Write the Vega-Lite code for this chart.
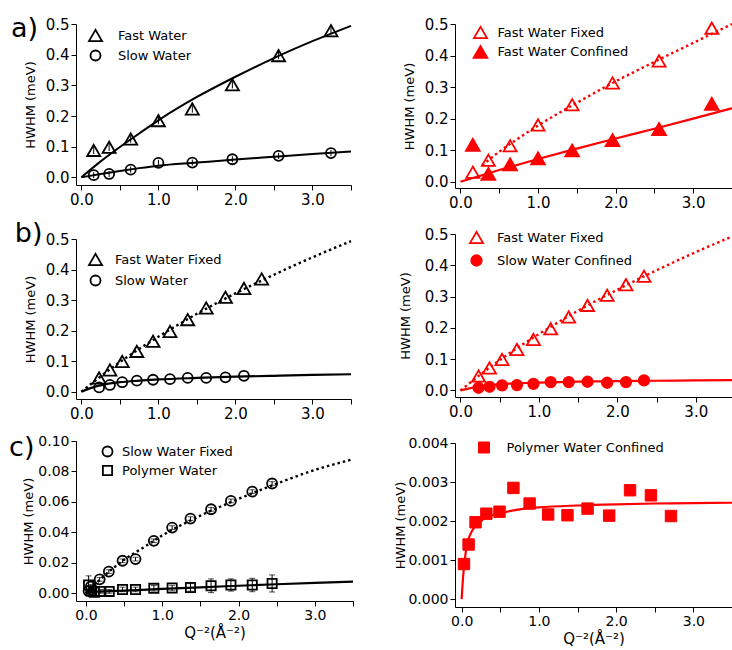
{
  "$schema": "https://vega.github.io/schema/vega-lite/v6.json",
  "padding": {"left": 9, "top": 15, "right": 0, "bottom": 0},
  "background": "white",
  "datasets": {
    "aL_pts": [
      {"series": "Fast Water", "q2": 0.16, "hwhm": 0.088, "err": 0.012},
      {"series": "Fast Water", "q2": 0.36, "hwhm": 0.098, "err": 0.012},
      {"series": "Fast Water", "q2": 0.64, "hwhm": 0.125, "err": 0.012},
      {"series": "Fast Water", "q2": 1.0, "hwhm": 0.185, "err": 0.012},
      {"series": "Fast Water", "q2": 1.44, "hwhm": 0.223, "err": 0.012},
      {"series": "Fast Water", "q2": 1.96, "hwhm": 0.302, "err": 0.012},
      {"series": "Fast Water", "q2": 2.56, "hwhm": 0.397, "err": 0.012},
      {"series": "Fast Water", "q2": 3.24, "hwhm": 0.478, "err": 0.012},
      {"series": "Slow Water", "q2": 0.16, "hwhm": 0.007, "err": 0.01},
      {"series": "Slow Water", "q2": 0.36, "hwhm": 0.011, "err": 0.01},
      {"series": "Slow Water", "q2": 0.64, "hwhm": 0.025, "err": 0.01},
      {"series": "Slow Water", "q2": 1.0, "hwhm": 0.047, "err": 0.01},
      {"series": "Slow Water", "q2": 1.44, "hwhm": 0.048, "err": 0.01},
      {"series": "Slow Water", "q2": 1.96, "hwhm": 0.059, "err": 0.01},
      {"series": "Slow Water", "q2": 2.56, "hwhm": 0.07, "err": 0.01},
      {"series": "Slow Water", "q2": 3.24, "hwhm": 0.079, "err": 0.01}
    ],
    "aL_fit": [
      {"series": "Fast Water", "q2": 0, "hwhm": 0},
      {"series": "Fast Water", "q2": 0.25, "hwhm": 0.052},
      {"series": "Fast Water", "q2": 0.5, "hwhm": 0.099},
      {"series": "Fast Water", "q2": 0.75, "hwhm": 0.143},
      {"series": "Fast Water", "q2": 1.0, "hwhm": 0.186},
      {"series": "Fast Water", "q2": 1.5, "hwhm": 0.262},
      {"series": "Fast Water", "q2": 2.0, "hwhm": 0.328},
      {"series": "Fast Water", "q2": 2.5, "hwhm": 0.389},
      {"series": "Fast Water", "q2": 3.0, "hwhm": 0.444},
      {"series": "Fast Water", "q2": 3.5, "hwhm": 0.494},
      {"series": "Slow Water", "q2": 0, "hwhm": 0},
      {"series": "Slow Water", "q2": 0.25, "hwhm": 0.011},
      {"series": "Slow Water", "q2": 0.5, "hwhm": 0.021},
      {"series": "Slow Water", "q2": 0.75, "hwhm": 0.03},
      {"series": "Slow Water", "q2": 1.0, "hwhm": 0.038},
      {"series": "Slow Water", "q2": 1.5, "hwhm": 0.048},
      {"series": "Slow Water", "q2": 2.0, "hwhm": 0.058},
      {"series": "Slow Water", "q2": 2.5, "hwhm": 0.067},
      {"series": "Slow Water", "q2": 3.0, "hwhm": 0.076},
      {"series": "Slow Water", "q2": 3.5, "hwhm": 0.084}
    ],
    "aR_pts": [
      {"series": "Fast Water Fixed", "q2": 0.16, "hwhm": 0.03},
      {"series": "Fast Water Fixed", "q2": 0.36, "hwhm": 0.068},
      {"series": "Fast Water Fixed", "q2": 0.64, "hwhm": 0.114},
      {"series": "Fast Water Fixed", "q2": 1.0, "hwhm": 0.18},
      {"series": "Fast Water Fixed", "q2": 1.44, "hwhm": 0.244},
      {"series": "Fast Water Fixed", "q2": 1.96, "hwhm": 0.313},
      {"series": "Fast Water Fixed", "q2": 2.56, "hwhm": 0.383},
      {"series": "Fast Water Fixed", "q2": 3.24, "hwhm": 0.487},
      {"series": "Fast Water Confined", "q2": 0.16, "hwhm": 0.117},
      {"series": "Fast Water Confined", "q2": 0.36, "hwhm": 0.025},
      {"series": "Fast Water Confined", "q2": 0.64, "hwhm": 0.055},
      {"series": "Fast Water Confined", "q2": 1.0, "hwhm": 0.074},
      {"series": "Fast Water Confined", "q2": 1.44, "hwhm": 0.099},
      {"series": "Fast Water Confined", "q2": 1.96, "hwhm": 0.132},
      {"series": "Fast Water Confined", "q2": 2.56, "hwhm": 0.167},
      {"series": "Fast Water Confined", "q2": 3.24, "hwhm": 0.247}
    ],
    "aR_fit": [
      {"series": "Fast Water Fixed", "q2": 0.28, "hwhm": 0.052},
      {"series": "Fast Water Fixed", "q2": 0.5, "hwhm": 0.095},
      {"series": "Fast Water Fixed", "q2": 0.75, "hwhm": 0.138},
      {"series": "Fast Water Fixed", "q2": 1.0, "hwhm": 0.178},
      {"series": "Fast Water Fixed", "q2": 1.5, "hwhm": 0.25},
      {"series": "Fast Water Fixed", "q2": 2.0, "hwhm": 0.318},
      {"series": "Fast Water Fixed", "q2": 2.5, "hwhm": 0.38},
      {"series": "Fast Water Fixed", "q2": 3.0, "hwhm": 0.44},
      {"series": "Fast Water Fixed", "q2": 3.5, "hwhm": 0.5},
      {"series": "Fast Water Confined", "q2": 0, "hwhm": 0},
      {"series": "Fast Water Confined", "q2": 0.5, "hwhm": 0.037},
      {"series": "Fast Water Confined", "q2": 1.0, "hwhm": 0.072},
      {"series": "Fast Water Confined", "q2": 1.5, "hwhm": 0.105},
      {"series": "Fast Water Confined", "q2": 2.0, "hwhm": 0.137},
      {"series": "Fast Water Confined", "q2": 2.5, "hwhm": 0.168},
      {"series": "Fast Water Confined", "q2": 3.0, "hwhm": 0.2},
      {"series": "Fast Water Confined", "q2": 3.5, "hwhm": 0.233}
    ],
    "bL_pts": [
      {"series": "Fast Water Fixed", "q2": 0.23, "hwhm": 0.045},
      {"series": "Fast Water Fixed", "q2": 0.37, "hwhm": 0.071},
      {"series": "Fast Water Fixed", "q2": 0.53, "hwhm": 0.099},
      {"series": "Fast Water Fixed", "q2": 0.72, "hwhm": 0.132},
      {"series": "Fast Water Fixed", "q2": 0.93, "hwhm": 0.165},
      {"series": "Fast Water Fixed", "q2": 1.15, "hwhm": 0.197},
      {"series": "Fast Water Fixed", "q2": 1.38, "hwhm": 0.236},
      {"series": "Fast Water Fixed", "q2": 1.62, "hwhm": 0.274},
      {"series": "Fast Water Fixed", "q2": 1.87, "hwhm": 0.309},
      {"series": "Fast Water Fixed", "q2": 2.11, "hwhm": 0.338},
      {"series": "Fast Water Fixed", "q2": 2.34, "hwhm": 0.369},
      {"series": "Slow Water", "q2": 0.23, "hwhm": 0.014},
      {"series": "Slow Water", "q2": 0.37, "hwhm": 0.022},
      {"series": "Slow Water", "q2": 0.53, "hwhm": 0.031},
      {"series": "Slow Water", "q2": 0.72, "hwhm": 0.036},
      {"series": "Slow Water", "q2": 0.93, "hwhm": 0.039},
      {"series": "Slow Water", "q2": 1.15, "hwhm": 0.041},
      {"series": "Slow Water", "q2": 1.38, "hwhm": 0.045},
      {"series": "Slow Water", "q2": 1.62, "hwhm": 0.045},
      {"series": "Slow Water", "q2": 1.87, "hwhm": 0.047},
      {"series": "Slow Water", "q2": 2.11, "hwhm": 0.052}
    ],
    "bL_fit": [
      {"series": "Fast Water Fixed", "q2": 0, "hwhm": 0},
      {"series": "Fast Water Fixed", "q2": 0.25, "hwhm": 0.05},
      {"series": "Fast Water Fixed", "q2": 0.5, "hwhm": 0.097},
      {"series": "Fast Water Fixed", "q2": 0.75, "hwhm": 0.14},
      {"series": "Fast Water Fixed", "q2": 1.0, "hwhm": 0.18},
      {"series": "Fast Water Fixed", "q2": 1.5, "hwhm": 0.255},
      {"series": "Fast Water Fixed", "q2": 2.0, "hwhm": 0.322},
      {"series": "Fast Water Fixed", "q2": 2.5, "hwhm": 0.383},
      {"series": "Fast Water Fixed", "q2": 3.0, "hwhm": 0.44},
      {"series": "Fast Water Fixed", "q2": 3.5, "hwhm": 0.493},
      {"series": "Slow Water", "q2": 0, "hwhm": 0},
      {"series": "Slow Water", "q2": 0.1, "hwhm": 0.01},
      {"series": "Slow Water", "q2": 0.2, "hwhm": 0.018},
      {"series": "Slow Water", "q2": 0.3, "hwhm": 0.024},
      {"series": "Slow Water", "q2": 0.5, "hwhm": 0.031},
      {"series": "Slow Water", "q2": 0.75, "hwhm": 0.036},
      {"series": "Slow Water", "q2": 1.0, "hwhm": 0.04},
      {"series": "Slow Water", "q2": 1.5, "hwhm": 0.045},
      {"series": "Slow Water", "q2": 2.0, "hwhm": 0.049},
      {"series": "Slow Water", "q2": 2.5, "hwhm": 0.052},
      {"series": "Slow Water", "q2": 3.0, "hwhm": 0.055},
      {"series": "Slow Water", "q2": 3.5, "hwhm": 0.057}
    ],
    "bR_pts": [
      {"series": "Fast Water Fixed", "q2": 0.23, "hwhm": 0.046},
      {"series": "Fast Water Fixed", "q2": 0.37, "hwhm": 0.072},
      {"series": "Fast Water Fixed", "q2": 0.53, "hwhm": 0.099},
      {"series": "Fast Water Fixed", "q2": 0.72, "hwhm": 0.131},
      {"series": "Fast Water Fixed", "q2": 0.93, "hwhm": 0.163},
      {"series": "Fast Water Fixed", "q2": 1.15, "hwhm": 0.197},
      {"series": "Fast Water Fixed", "q2": 1.38, "hwhm": 0.235},
      {"series": "Fast Water Fixed", "q2": 1.62, "hwhm": 0.272},
      {"series": "Fast Water Fixed", "q2": 1.87, "hwhm": 0.304},
      {"series": "Fast Water Fixed", "q2": 2.11, "hwhm": 0.338},
      {"series": "Fast Water Fixed", "q2": 2.34, "hwhm": 0.365},
      {"series": "Slow Water Confined", "q2": 0.23, "hwhm": 0.0085},
      {"series": "Slow Water Confined", "q2": 0.37, "hwhm": 0.0117},
      {"series": "Slow Water Confined", "q2": 0.53, "hwhm": 0.016},
      {"series": "Slow Water Confined", "q2": 0.72, "hwhm": 0.017},
      {"series": "Slow Water Confined", "q2": 0.93, "hwhm": 0.021},
      {"series": "Slow Water Confined", "q2": 1.15, "hwhm": 0.0266},
      {"series": "Slow Water Confined", "q2": 1.38, "hwhm": 0.0266},
      {"series": "Slow Water Confined", "q2": 1.62, "hwhm": 0.0277},
      {"series": "Slow Water Confined", "q2": 1.87, "hwhm": 0.0245},
      {"series": "Slow Water Confined", "q2": 2.11, "hwhm": 0.0266},
      {"series": "Slow Water Confined", "q2": 2.34, "hwhm": 0.032}
    ],
    "bR_fit": [
      {"series": "Fast Water Fixed", "q2": 0, "hwhm": 0},
      {"series": "Fast Water Fixed", "q2": 0.25, "hwhm": 0.05},
      {"series": "Fast Water Fixed", "q2": 0.5, "hwhm": 0.097},
      {"series": "Fast Water Fixed", "q2": 0.75, "hwhm": 0.14},
      {"series": "Fast Water Fixed", "q2": 1.0, "hwhm": 0.18},
      {"series": "Fast Water Fixed", "q2": 1.5, "hwhm": 0.255},
      {"series": "Fast Water Fixed", "q2": 2.0, "hwhm": 0.322},
      {"series": "Fast Water Fixed", "q2": 2.5, "hwhm": 0.384},
      {"series": "Fast Water Fixed", "q2": 3.0, "hwhm": 0.442},
      {"series": "Fast Water Fixed", "q2": 3.5, "hwhm": 0.496},
      {"series": "Slow Water Confined", "q2": 0, "hwhm": 0},
      {"series": "Slow Water Confined", "q2": 0.1, "hwhm": 0.006},
      {"series": "Slow Water Confined", "q2": 0.2, "hwhm": 0.011},
      {"series": "Slow Water Confined", "q2": 0.3, "hwhm": 0.015},
      {"series": "Slow Water Confined", "q2": 0.5, "hwhm": 0.02},
      {"series": "Slow Water Confined", "q2": 0.75, "hwhm": 0.023},
      {"series": "Slow Water Confined", "q2": 1.0, "hwhm": 0.025},
      {"series": "Slow Water Confined", "q2": 1.5, "hwhm": 0.028},
      {"series": "Slow Water Confined", "q2": 2.0, "hwhm": 0.03},
      {"series": "Slow Water Confined", "q2": 2.5, "hwhm": 0.031},
      {"series": "Slow Water Confined", "q2": 3.0, "hwhm": 0.032},
      {"series": "Slow Water Confined", "q2": 3.5, "hwhm": 0.033}
    ],
    "cL_pts": [
      {"series": "Slow Water Fixed", "q2": 0.035, "hwhm": 0.0015, "err": 0.0012},
      {"series": "Slow Water Fixed", "q2": 0.065, "hwhm": 0.0045, "err": 0.0012},
      {"series": "Slow Water Fixed", "q2": 0.18, "hwhm": 0.0092, "err": 0.0012},
      {"series": "Slow Water Fixed", "q2": 0.3, "hwhm": 0.0143, "err": 0.0012},
      {"series": "Slow Water Fixed", "q2": 0.48, "hwhm": 0.0214, "err": 0.0012},
      {"series": "Slow Water Fixed", "q2": 0.65, "hwhm": 0.0225, "err": 0.0012},
      {"series": "Slow Water Fixed", "q2": 0.89, "hwhm": 0.0345, "err": 0.0012},
      {"series": "Slow Water Fixed", "q2": 1.13, "hwhm": 0.0432, "err": 0.0012},
      {"series": "Slow Water Fixed", "q2": 1.37, "hwhm": 0.0491, "err": 0.0012},
      {"series": "Slow Water Fixed", "q2": 1.64, "hwhm": 0.0552, "err": 0.0012},
      {"series": "Slow Water Fixed", "q2": 1.9, "hwhm": 0.0607, "err": 0.0012},
      {"series": "Slow Water Fixed", "q2": 2.18, "hwhm": 0.0668, "err": 0.0012},
      {"series": "Slow Water Fixed", "q2": 2.44, "hwhm": 0.0721, "err": 0.0012},
      {"series": "Polymer Water", "q2": 0.035, "hwhm": 0.0055, "err": 0.006},
      {"series": "Polymer Water", "q2": 0.065, "hwhm": 0.0018, "err": 0.0015},
      {"series": "Polymer Water", "q2": 0.11, "hwhm": 0.0007, "err": 0.0012},
      {"series": "Polymer Water", "q2": 0.196, "hwhm": 0.0013, "err": 0.0012},
      {"series": "Polymer Water", "q2": 0.305, "hwhm": 0.0013, "err": 0.0012},
      {"series": "Polymer Water", "q2": 0.48, "hwhm": 0.0026, "err": 0.0015},
      {"series": "Polymer Water", "q2": 0.65, "hwhm": 0.0026, "err": 0.0015},
      {"series": "Polymer Water", "q2": 0.89, "hwhm": 0.0033, "err": 0.0018},
      {"series": "Polymer Water", "q2": 1.13, "hwhm": 0.0035, "err": 0.0018},
      {"series": "Polymer Water", "q2": 1.37, "hwhm": 0.0039, "err": 0.0025},
      {"series": "Polymer Water", "q2": 1.64, "hwhm": 0.005, "err": 0.0045},
      {"series": "Polymer Water", "q2": 1.9, "hwhm": 0.0055, "err": 0.004},
      {"series": "Polymer Water", "q2": 2.18, "hwhm": 0.0055, "err": 0.0044},
      {"series": "Polymer Water", "q2": 2.44, "hwhm": 0.0065, "err": 0.0056}
    ],
    "cL_fit": [
      {"series": "Slow Water Fixed", "q2": 0, "hwhm": 0},
      {"series": "Slow Water Fixed", "q2": 0.25, "hwhm": 0.012},
      {"series": "Slow Water Fixed", "q2": 0.5, "hwhm": 0.022},
      {"series": "Slow Water Fixed", "q2": 0.75, "hwhm": 0.03},
      {"series": "Slow Water Fixed", "q2": 1.0, "hwhm": 0.038},
      {"series": "Slow Water Fixed", "q2": 1.5, "hwhm": 0.051},
      {"series": "Slow Water Fixed", "q2": 2.0, "hwhm": 0.062},
      {"series": "Slow Water Fixed", "q2": 2.5, "hwhm": 0.072},
      {"series": "Slow Water Fixed", "q2": 3.0, "hwhm": 0.081},
      {"series": "Slow Water Fixed", "q2": 3.5, "hwhm": 0.088},
      {"series": "Polymer Water", "q2": 0, "hwhm": 0.0008},
      {"series": "Polymer Water", "q2": 0.5, "hwhm": 0.0018},
      {"series": "Polymer Water", "q2": 1.0, "hwhm": 0.0029},
      {"series": "Polymer Water", "q2": 1.5, "hwhm": 0.004},
      {"series": "Polymer Water", "q2": 2.0, "hwhm": 0.005},
      {"series": "Polymer Water", "q2": 2.5, "hwhm": 0.006},
      {"series": "Polymer Water", "q2": 3.0, "hwhm": 0.0069},
      {"series": "Polymer Water", "q2": 3.5, "hwhm": 0.0077}
    ],
    "cR_pts": [
      {"series": "Polymer Water Confined", "q2": 0.03, "hwhm": 0.0009},
      {"series": "Polymer Water Confined", "q2": 0.09, "hwhm": 0.0014},
      {"series": "Polymer Water Confined", "q2": 0.18, "hwhm": 0.00197},
      {"series": "Polymer Water Confined", "q2": 0.32, "hwhm": 0.00219},
      {"series": "Polymer Water Confined", "q2": 0.49, "hwhm": 0.00224},
      {"series": "Polymer Water Confined", "q2": 0.67, "hwhm": 0.00285},
      {"series": "Polymer Water Confined", "q2": 0.88, "hwhm": 0.00245},
      {"series": "Polymer Water Confined", "q2": 1.12, "hwhm": 0.00217},
      {"series": "Polymer Water Confined", "q2": 1.37, "hwhm": 0.00215},
      {"series": "Polymer Water Confined", "q2": 1.63, "hwhm": 0.00232},
      {"series": "Polymer Water Confined", "q2": 1.91, "hwhm": 0.00214},
      {"series": "Polymer Water Confined", "q2": 2.18, "hwhm": 0.00279},
      {"series": "Polymer Water Confined", "q2": 2.45, "hwhm": 0.00266},
      {"series": "Polymer Water Confined", "q2": 2.71, "hwhm": 0.00213}
    ],
    "cR_fit": [
      {"series": "Polymer Water Confined", "q2": 0, "hwhm": 0},
      {"series": "Polymer Water Confined", "q2": 0.02, "hwhm": 0.0006},
      {"series": "Polymer Water Confined", "q2": 0.04, "hwhm": 0.001},
      {"series": "Polymer Water Confined", "q2": 0.07, "hwhm": 0.0014},
      {"series": "Polymer Water Confined", "q2": 0.1, "hwhm": 0.0016},
      {"series": "Polymer Water Confined", "q2": 0.15, "hwhm": 0.0018},
      {"series": "Polymer Water Confined", "q2": 0.2, "hwhm": 0.0019},
      {"series": "Polymer Water Confined", "q2": 0.3, "hwhm": 0.00208},
      {"series": "Polymer Water Confined", "q2": 0.5, "hwhm": 0.0022},
      {"series": "Polymer Water Confined", "q2": 0.75, "hwhm": 0.0023},
      {"series": "Polymer Water Confined", "q2": 1.0, "hwhm": 0.00235},
      {"series": "Polymer Water Confined", "q2": 1.5, "hwhm": 0.0024},
      {"series": "Polymer Water Confined", "q2": 2.0, "hwhm": 0.00243},
      {"series": "Polymer Water Confined", "q2": 2.5, "hwhm": 0.00245},
      {"series": "Polymer Water Confined", "q2": 3.0, "hwhm": 0.00246},
      {"series": "Polymer Water Confined", "q2": 3.5, "hwhm": 0.00247}
    ]
  },
  "spacing": 36,
  "resolve": {
    "scale": {"x": "independent", "y": "independent", "shape": "independent", "stroke": "independent", "fill": "independent", "size": "independent"},
    "legend": {"shape": "independent", "stroke": "independent", "fill": "independent", "size": "independent"},
    "axis": {"x": "independent", "y": "independent"}
  },
  "hconcat": [
    {
      "spacing": 13,
      "resolve": {
        "scale": {"x": "independent", "y": "independent", "shape": "independent", "stroke": "independent", "fill": "independent", "size": "independent"},
        "legend": {"shape": "independent", "stroke": "independent", "fill": "independent", "size": "independent"},
        "axis": {"x": "independent", "y": "independent"}
      },
      "vconcat": [
        {
          "width": 275, "height": 161,
          "title": {"text": "a)", "orient": "left", "anchor": "end", "angle": 0, "align": "right", "baseline": "top", "offset": -41, "dy": -1, "fontSize": 27, "fontWeight": "normal", "color": "black"},
          "encoding": {
            "x": {"field": "q2", "type": "quantitative", "title": null, "scale": {"domain": [-0.07, 3.5], "nice": false, "zero": false}, "axis": {"values": [0, 0.5, 1, 1.5, 2, 2.5, 3, 3.5], "labelExpr": "datum.value % 1 === 0 ? format(datum.value, '.1f') : ''", "labelOverlap": false}},
            "y": {"field": "hwhm", "type": "quantitative", "title": "HWHM (meV)", "scale": {"domain": [-0.025, 0.5], "nice": false, "zero": false}, "axis": {"values": [0, 0.1, 0.2, 0.3, 0.4, 0.5], "format": ".1f", "titlePadding": 8, "labelOverlap": false}}
          },
          "layer": [
            {
              "data": {"name": "aL_fit"},
              "mark": {"type": "line", "color": "black", "strokeWidth": 2, "interpolate": "monotone"},
              "encoding": {"detail": {"field": "series", "type": "nominal"}}
            },
            {
              "data": {"name": "aL_pts"},
              "mark": {"type": "errorbar", "ticks": false, "color": "black", "thickness": 1},
              "encoding": {"yError": {"field": "err"}}
            },
            {
              "data": {"name": "aL_pts"},
              "mark": {"type": "point", "opacity": 1, "strokeWidth": 1.8},
              "encoding": {
                "shape": {"field": "series", "type": "nominal", "scale": {"domain": ["Fast Water", "Slow Water"], "range": ["triangle-up", "circle"]}, "legend": {"title": null, "orient": "none", "legendX": 12, "legendY": 4, "labelOffset": 15, "rowPadding": 1, "labelFontSize": 13, "symbolStrokeWidth": 1.8, "padding": 0}},
                "stroke": {"field": "series", "type": "nominal", "scale": {"domain": ["Fast Water", "Slow Water"], "range": ["black", "black"]}, "legend": {"title": null, "orient": "none", "legendX": 12, "legendY": 4, "labelOffset": 15, "rowPadding": 1, "labelFontSize": 13, "symbolStrokeWidth": 1.8, "padding": 0}},
                "fill": {"field": "series", "type": "nominal", "scale": {"domain": ["Fast Water", "Slow Water"], "range": ["transparent", "transparent"]}, "legend": {"title": null, "orient": "none", "legendX": 12, "legendY": 4, "labelOffset": 15, "rowPadding": 1, "labelFontSize": 13, "symbolStrokeWidth": 1.8, "padding": 0}},
                "size": {"field": "series", "type": "nominal", "scale": {"domain": ["Fast Water", "Slow Water"], "range": [170, 100]}, "legend": {"title": null, "orient": "none", "legendX": 12, "legendY": 4, "labelOffset": 15, "rowPadding": 1, "labelFontSize": 13, "symbolStrokeWidth": 1.8, "padding": 0}}
              }
            }
          ]
        },
        {
          "width": 275, "height": 160,
          "title": {"text": "b)", "orient": "left", "anchor": "end", "angle": 0, "align": "right", "baseline": "top", "offset": -46, "dy": -11, "fontSize": 27, "fontWeight": "normal", "color": "black"},
          "encoding": {
            "x": {"field": "q2", "type": "quantitative", "title": null, "scale": {"domain": [-0.07, 3.5], "nice": false, "zero": false}, "axis": {"values": [0, 0.5, 1, 1.5, 2, 2.5, 3, 3.5], "labelExpr": "datum.value % 1 === 0 ? format(datum.value, '.1f') : ''", "labelOverlap": false}},
            "y": {"field": "hwhm", "type": "quantitative", "title": "HWHM (meV)", "scale": {"domain": [-0.024, 0.5], "nice": false, "zero": false}, "axis": {"values": [0, 0.1, 0.2, 0.3, 0.4, 0.5], "format": ".1f", "titlePadding": 8, "labelOverlap": false}}
          },
          "layer": [
            {
              "data": {"name": "bL_fit"},
              "transform": [{"filter": "datum.series === 'Fast Water Fixed'"}],
              "mark": {"type": "line", "color": "black", "strokeWidth": 2.4, "strokeDash": [2.5, 3], "interpolate": "monotone"}
            },
            {
              "data": {"name": "bL_fit"},
              "transform": [{"filter": "datum.series === 'Slow Water'"}],
              "mark": {"type": "line", "color": "black", "strokeWidth": 2.2, "interpolate": "monotone"}
            },
            {
              "data": {"name": "bL_pts"},
              "mark": {"type": "point", "opacity": 1, "strokeWidth": 1.8},
              "encoding": {
                "shape": {"field": "series", "type": "nominal", "scale": {"domain": ["Fast Water Fixed", "Slow Water"], "range": ["triangle-up", "circle"]}, "legend": {"title": null, "orient": "none", "legendX": 12, "legendY": 13, "labelOffset": 12, "rowPadding": 2, "labelFontSize": 13, "symbolStrokeWidth": 1.8, "padding": 0}},
                "stroke": {"field": "series", "type": "nominal", "scale": {"domain": ["Fast Water Fixed", "Slow Water"], "range": ["black", "black"]}, "legend": {"title": null, "orient": "none", "legendX": 12, "legendY": 13, "labelOffset": 12, "rowPadding": 2, "labelFontSize": 13, "symbolStrokeWidth": 1.8, "padding": 0}},
                "fill": {"field": "series", "type": "nominal", "scale": {"domain": ["Fast Water Fixed", "Slow Water"], "range": ["transparent", "transparent"]}, "legend": {"title": null, "orient": "none", "legendX": 12, "legendY": 13, "labelOffset": 12, "rowPadding": 2, "labelFontSize": 13, "symbolStrokeWidth": 1.8, "padding": 0}},
                "size": {"field": "series", "type": "nominal", "scale": {"domain": ["Fast Water Fixed", "Slow Water"], "range": [170, 100]}, "legend": {"title": null, "orient": "none", "legendX": 12, "legendY": 13, "labelOffset": 12, "rowPadding": 2, "labelFontSize": 13, "symbolStrokeWidth": 1.8, "padding": 0}}
              }
            }
          ]
        },
        {
          "width": 277, "height": 160,
          "title": {"text": "c)", "orient": "left", "anchor": "end", "angle": 0, "align": "right", "baseline": "top", "offset": -37, "dy": 1, "fontSize": 27, "fontWeight": "normal", "color": "black"},
          "encoding": {
            "x": {"field": "q2", "type": "quantitative", "title": "Q⁻²(Å⁻²)", "scale": {"domain": [-0.13, 3.5], "nice": false, "zero": false}, "axis": {"values": [0, 0.5, 1, 1.5, 2, 2.5, 3, 3.5], "labelExpr": "datum.value % 1 === 0 ? format(datum.value, '.1f') : ''", "labelOverlap": false, "labelFontSize": 14, "titleFontSize": 15, "titlePadding": 3}},
            "y": {"field": "hwhm", "type": "quantitative", "title": "HWHM (meV)", "scale": {"domain": [-0.005, 0.1], "nice": false, "zero": false}, "axis": {"values": [0, 0.02, 0.04, 0.06, 0.08, 0.1], "format": ".2f", "labelFontSize": 14, "titlePadding": 2, "labelOverlap": false}}
          },
          "layer": [
            {
              "data": {"name": "cL_fit"},
              "transform": [{"filter": "datum.series === 'Slow Water Fixed'"}],
              "mark": {"type": "line", "color": "black", "strokeWidth": 2.4, "strokeDash": [2.5, 3], "interpolate": "monotone"}
            },
            {
              "data": {"name": "cL_fit"},
              "transform": [{"filter": "datum.series === 'Polymer Water'"}],
              "mark": {"type": "line", "color": "black", "strokeWidth": 2.2, "interpolate": "monotone"}
            },
            {
              "data": {"name": "cL_pts"},
              "mark": {"type": "errorbar", "ticks": {"size": 6, "thickness": 1}, "color": "black", "thickness": 1},
              "encoding": {"yError": {"field": "err"}}
            },
            {
              "data": {"name": "cL_pts"},
              "mark": {"type": "point", "opacity": 1, "strokeWidth": 1.8},
              "encoding": {
                "shape": {"field": "series", "type": "nominal", "scale": {"domain": ["Slow Water Fixed", "Polymer Water"], "range": ["circle", "square"]}, "legend": {"title": null, "orient": "none", "legendX": 25, "legendY": 4, "labelOffset": 8, "rowPadding": 1, "labelFontSize": 13, "symbolStrokeWidth": 1.8, "padding": 0}},
                "stroke": {"field": "series", "type": "nominal", "scale": {"domain": ["Slow Water Fixed", "Polymer Water"], "range": ["black", "black"]}, "legend": {"title": null, "orient": "none", "legendX": 25, "legendY": 4, "labelOffset": 8, "rowPadding": 1, "labelFontSize": 13, "symbolStrokeWidth": 1.8, "padding": 0}},
                "fill": {"field": "series", "type": "nominal", "scale": {"domain": ["Slow Water Fixed", "Polymer Water"], "range": ["transparent", "transparent"]}, "legend": {"title": null, "orient": "none", "legendX": 25, "legendY": 4, "labelOffset": 8, "rowPadding": 1, "labelFontSize": 13, "symbolStrokeWidth": 1.8, "padding": 0}},
                "size": {"field": "series", "type": "nominal", "scale": {"domain": ["Slow Water Fixed", "Polymer Water"], "range": [100, 85]}, "legend": {"title": null, "orient": "none", "legendX": 25, "legendY": 4, "labelOffset": 8, "rowPadding": 1, "labelFontSize": 13, "symbolStrokeWidth": 1.8, "padding": 0}}
              }
            }
          ]
        }
      ]
    },
    {
      "spacing": 17,
      "resolve": {
        "scale": {"x": "independent", "y": "independent", "shape": "independent", "stroke": "independent", "fill": "independent", "size": "independent"},
        "legend": {"shape": "independent", "stroke": "independent", "fill": "independent", "size": "independent"},
        "axis": {"x": "independent", "y": "independent"}
      },
      "vconcat": [
        {
          "width": 277, "height": 164,
          "encoding": {
            "x": {"field": "q2", "type": "quantitative", "title": null, "scale": {"domain": [-0.07, 3.5], "nice": false, "zero": false}, "axis": {"values": [0, 0.5, 1, 1.5, 2, 2.5, 3, 3.5], "labelExpr": "datum.value % 1 === 0 ? format(datum.value, '.1f') : ''", "labelOverlap": false}},
            "y": {"field": "hwhm", "type": "quantitative", "title": "HWHM (meV)", "scale": {"domain": [-0.02, 0.5], "nice": false, "zero": false}, "axis": {"values": [0, 0.1, 0.2, 0.3, 0.4, 0.5], "format": ".1f", "titlePadding": 8, "labelOverlap": false}}
          },
          "layer": [
            {
              "data": {"name": "aR_fit"},
              "transform": [{"filter": "datum.series === 'Fast Water Fixed'"}],
              "mark": {"type": "line", "color": "red", "strokeWidth": 2.4, "strokeDash": [2.5, 3], "interpolate": "monotone"}
            },
            {
              "data": {"name": "aR_fit"},
              "transform": [{"filter": "datum.series === 'Fast Water Confined'"}],
              "mark": {"type": "line", "color": "red", "strokeWidth": 2.2, "interpolate": "monotone"}
            },
            {
              "data": {"name": "aR_pts"},
              "mark": {"type": "point", "opacity": 1, "strokeWidth": 1.8},
              "encoding": {
                "shape": {"field": "series", "type": "nominal", "scale": {"domain": ["Fast Water Fixed", "Fast Water Confined"], "range": ["triangle-up", "triangle-up"]}, "legend": {"title": null, "orient": "none", "legendX": 17.5, "legendY": 1, "labelOffset": 9, "rowPadding": 0, "labelFontSize": 13, "symbolStrokeWidth": 1.8, "padding": 0}},
                "stroke": {"field": "series", "type": "nominal", "scale": {"domain": ["Fast Water Fixed", "Fast Water Confined"], "range": ["red", "red"]}, "legend": {"title": null, "orient": "none", "legendX": 17.5, "legendY": 1, "labelOffset": 9, "rowPadding": 0, "labelFontSize": 13, "symbolStrokeWidth": 1.8, "padding": 0}},
                "fill": {"field": "series", "type": "nominal", "scale": {"domain": ["Fast Water Fixed", "Fast Water Confined"], "range": ["transparent", "red"]}, "legend": {"title": null, "orient": "none", "legendX": 17.5, "legendY": 1, "labelOffset": 9, "rowPadding": 0, "labelFontSize": 13, "symbolStrokeWidth": 1.8, "padding": 0}},
                "size": {"field": "series", "type": "nominal", "scale": {"domain": ["Fast Water Fixed", "Fast Water Confined"], "range": [170, 190]}, "legend": {"title": null, "orient": "none", "legendX": 17.5, "legendY": 1, "labelOffset": 9, "rowPadding": 0, "labelFontSize": 13, "symbolStrokeWidth": 1.8, "padding": 0}}
              }
            }
          ]
        },
        {
          "width": 280, "height": 163,
          "encoding": {
            "x": {"field": "q2", "type": "quantitative", "title": null, "scale": {"domain": [-0.07, 3.5], "nice": false, "zero": false}, "axis": {"values": [0, 0.5, 1, 1.5, 2, 2.5, 3, 3.5], "labelExpr": "datum.value % 1 === 0 ? format(datum.value, '.1f') : ''", "labelOverlap": false}},
            "y": {"field": "hwhm", "type": "quantitative", "title": "HWHM (meV)", "scale": {"domain": [-0.021, 0.5], "nice": false, "zero": false}, "axis": {"values": [0, 0.1, 0.2, 0.3, 0.4, 0.5], "format": ".1f", "titlePadding": 12, "labelOverlap": false}}
          },
          "layer": [
            {
              "data": {"name": "bR_fit"},
              "transform": [{"filter": "datum.series === 'Fast Water Fixed'"}],
              "mark": {"type": "line", "color": "red", "strokeWidth": 2.4, "strokeDash": [2.5, 3], "interpolate": "monotone"}
            },
            {
              "data": {"name": "bR_fit"},
              "transform": [{"filter": "datum.series === 'Slow Water Confined'"}],
              "mark": {"type": "line", "color": "red", "strokeWidth": 2.2, "interpolate": "monotone"}
            },
            {
              "data": {"name": "bR_pts"},
              "mark": {"type": "point", "opacity": 1, "strokeWidth": 1.8},
              "encoding": {
                "shape": {"field": "series", "type": "nominal", "scale": {"domain": ["Fast Water Fixed", "Slow Water Confined"], "range": ["triangle-up", "circle"]}, "legend": {"title": null, "orient": "none", "legendX": 14, "legendY": -4, "labelOffset": 13, "rowPadding": 4, "labelFontSize": 13, "symbolStrokeWidth": 1.8, "padding": 0}},
                "stroke": {"field": "series", "type": "nominal", "scale": {"domain": ["Fast Water Fixed", "Slow Water Confined"], "range": ["red", "red"]}, "legend": {"title": null, "orient": "none", "legendX": 14, "legendY": -4, "labelOffset": 13, "rowPadding": 4, "labelFontSize": 13, "symbolStrokeWidth": 1.8, "padding": 0}},
                "fill": {"field": "series", "type": "nominal", "scale": {"domain": ["Fast Water Fixed", "Slow Water Confined"], "range": ["transparent", "red"]}, "legend": {"title": null, "orient": "none", "legendX": 14, "legendY": -4, "labelOffset": 13, "rowPadding": 4, "labelFontSize": 13, "symbolStrokeWidth": 1.8, "padding": 0}},
                "size": {"field": "series", "type": "nominal", "scale": {"domain": ["Fast Water Fixed", "Slow Water Confined"], "range": [170, 110]}, "legend": {"title": null, "orient": "none", "legendX": 14, "legendY": -4, "labelOffset": 13, "rowPadding": 4, "labelFontSize": 13, "symbolStrokeWidth": 1.8, "padding": 0}}
              }
            }
          ]
        },
        {
          "width": 277, "height": 164,
          "encoding": {
            "x": {"field": "q2", "type": "quantitative", "title": "Q⁻²(Å⁻²)", "scale": {"domain": [-0.086, 3.5], "nice": false, "zero": false}, "axis": {"values": [0, 0.5, 1, 1.5, 2, 2.5, 3, 3.5], "labelExpr": "datum.value % 1 === 0 ? format(datum.value, '.1f') : ''", "labelOverlap": false, "labelFontSize": 14, "titleFontSize": 15, "titlePadding": 3}},
            "y": {"field": "hwhm", "type": "quantitative", "title": "HWHM (meV)", "scale": {"domain": [-0.0002, 0.004], "nice": false, "zero": false}, "axis": {"values": [0, 0.001, 0.002, 0.003, 0.004], "format": ".3f", "labelFontSize": 14, "titlePadding": 0, "labelOverlap": false}}
          },
          "layer": [
            {
              "data": {"name": "cR_fit"},
              "mark": {"type": "line", "color": "red", "strokeWidth": 2.2, "interpolate": "monotone"}
            },
            {
              "data": {"name": "cR_pts"},
              "mark": {"type": "point", "opacity": 1, "strokeWidth": 1, "size": 130},
              "encoding": {
                "shape": {"field": "series", "type": "nominal", "scale": {"domain": ["Polymer Water Confined"], "range": ["square"]}, "legend": {"title": null, "orient": "none", "legendX": 22.5, "legendY": -2, "symbolSize": 121, "labelOffset": 16, "labelFontSize": 13, "symbolStrokeWidth": 1, "padding": 0}},
                "stroke": {"field": "series", "type": "nominal", "scale": {"domain": ["Polymer Water Confined"], "range": ["red"]}, "legend": {"title": null, "orient": "none", "legendX": 22.5, "legendY": -2, "symbolSize": 121, "labelOffset": 16, "labelFontSize": 13, "symbolStrokeWidth": 1, "padding": 0}},
                "fill": {"field": "series", "type": "nominal", "scale": {"domain": ["Polymer Water Confined"], "range": ["red"]}, "legend": {"title": null, "orient": "none", "legendX": 22.5, "legendY": -2, "symbolSize": 121, "labelOffset": 16, "labelFontSize": 13, "symbolStrokeWidth": 1, "padding": 0}}
              }
            }
          ]
        }
      ]
    }
  ],
  "config": {
    "font": "DejaVu Sans",
    "view": {"stroke": null},
    "axis": {"grid": false, "domainColor": "black", "tickColor": "black", "labelColor": "black", "titleColor": "black", "labelFontSize": 15, "titleFontSize": 13, "titleFontWeight": "normal", "tickSize": 5, "labelPadding": 2, "domainWidth": 1, "tickWidth": 1, "labelFlush": false},
    "legend": {"labelColor": "black", "labelFontSize": 13},
    "title": {"fontSize": 27, "fontWeight": "normal", "color": "black"}
  }
}
